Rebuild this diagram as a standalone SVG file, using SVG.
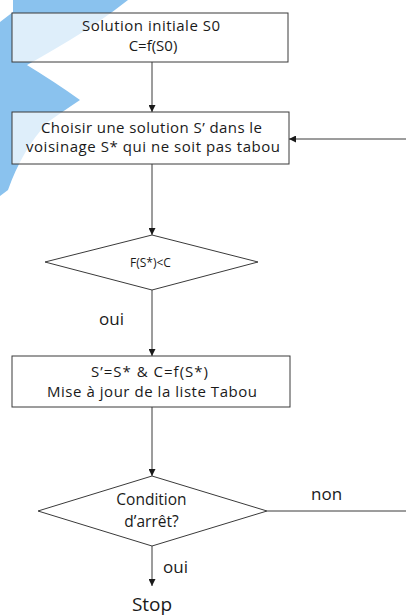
<svg xmlns="http://www.w3.org/2000/svg" width="406" height="616" viewBox="0 0 406 616">
  <defs>
    <marker id="arrow" viewBox="0 0 10 10" refX="10" refY="5" markerWidth="7" markerHeight="7" markerUnits="userSpaceOnUse" orient="auto">
      <path d="M0,0 L10,5 L0,10 Z" fill="#1a1a1a"/>
    </marker>
  </defs>
  <style>
    .box { fill: #ffffff; fill-opacity: 0.72; stroke: #3a3a3a; stroke-width: 1; }
    .dec { fill: #ffffff; stroke: #3a3a3a; stroke-width: 1; }
    .edge { fill: none; stroke: #3a3a3a; stroke-width: 1; }
    .t { font-family: "Open Sans", "Noto Sans", sans-serif; font-size: 15px; fill: #1a1a1a; text-anchor: middle; }
    .small { font-size: 12px; }
    .cond { font-size: 15.5px; }
    .lbl { font-family: "Open Sans", "Noto Sans", sans-serif; font-size: 17px; fill: #1a1a1a; }
    .stop { font-size: 19px; }
    .mark { fill: #8ac2ee; }
  </style>

  <rect width="406" height="616" fill="#ffffff"/>

  <!-- background logo swoosh -->
  <g id="logo">
    <path class="mark" d="M13,0 L128,0 Q100,22 70,40 Q40,58 18,70 L0,78 L0,22 L13,12 Z"/>
    <path class="mark" d="M0,62 L22,62 Q55,82 80,100 Q62,112 48,122 Q22,150 8,190 L0,196 Z"/>
  </g>

  <!-- flow connectors -->
  <g id="connectors">
    <line class="edge" x1="152" y1="62" x2="152" y2="112" marker-end="url(#arrow)"/>
    <line class="edge" x1="406" y1="139" x2="289" y2="139" marker-end="url(#arrow)"/>
    <line class="edge" x1="152" y1="164" x2="152" y2="235" marker-end="url(#arrow)"/>
    <line class="edge" x1="152" y1="290" x2="152" y2="356" marker-end="url(#arrow)"/>
    <line class="edge" x1="152" y1="407" x2="152" y2="476" marker-end="url(#arrow)"/>
    <line class="edge" x1="267" y1="511" x2="406" y2="511"/>
    <line class="edge" x1="152" y1="546" x2="152" y2="586" marker-end="url(#arrow)"/>
    <text class="lbl" x="99" y="325">oui</text>
    <text class="lbl" x="311" y="500">non</text>
    <text class="lbl" x="163" y="573">oui</text>
  </g>

  <g id="init">
    <rect class="box" x="12" y="13" width="276" height="49"/>
    <text class="t" x="151" y="31" textLength="138">Solution initiale S0</text>
    <text class="t" x="153" y="51">C=f(S0)</text>
  </g>

  <g id="choose">
    <rect class="box" x="12" y="112" width="277" height="52"/>
    <text class="t" x="151.5" y="133" textLength="221">Choisir une solution S’ dans le</text>
    <text class="t" x="153" y="152" textLength="254">voisinage S* qui ne soit pas tabou</text>
  </g>

  <g id="test-cost">
    <polygon class="dec" points="152,235 258,262 152,290 45,262"/>
    <text class="t small" x="150.5" y="267">F(S*)&lt;C</text>
  </g>

  <g id="update">
    <rect class="box" x="12" y="356" width="278" height="51"/>
    <text class="t" x="149.5" y="377" textLength="117">S’=S* &amp; C=f(S*)</text>
    <text class="t" x="152" y="397" textLength="210">Mise à jour de la liste Tabou</text>
  </g>

  <g id="test-stop">
    <polygon class="dec" points="152,476 267,511 152,546 38,511"/>
    <text class="t cond" x="151.5" y="505">Condition</text>
    <text class="t cond" x="151.5" y="527">d’arrêt?</text>
  </g>

  <g id="stop">
    <text class="t stop" x="152" y="611">Stop</text>
  </g>
</svg>
